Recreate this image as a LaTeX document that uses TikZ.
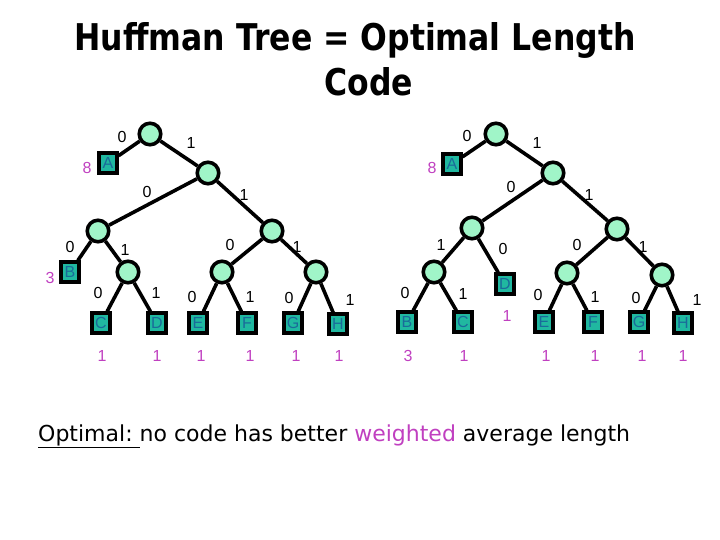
\documentclass[tikz,border=0pt]{standalone}
\usepackage{fontspec}
\setmainfont{Liberation Sans}
\newfontfamily\titlefont{DejaVu Sans}
\definecolor{mint}{HTML}{A0F5C8}
\definecolor{tealbox}{HTML}{20B8A0}
\definecolor{lettercol}{HTML}{1A6A9A}
\definecolor{wcol}{HTML}{C040C0}
\begin{document}
\begin{tikzpicture}[x=1pt,y=-1pt,
  inner/.style={circle,draw,line width=3.6pt,fill=mint,minimum size=21.5pt,inner sep=0pt},
  leaf/.style={rectangle,draw,line width=3.6pt,fill=tealbox,minimum width=17.5pt,minimum height=19.5pt,inner sep=0pt,text=lettercol,font=\fontsize{16}{16}\selectfont},
  lab/.style={font=\fontsize{16}{16}\selectfont,inner sep=0pt},
  wt/.style={font=\fontsize{16}{16}\selectfont,text=wcol,inner sep=0pt},
  ttl/.style={font=\titlefont\bfseries\fontsize{31.5}{31.5}\selectfont,inner sep=0pt},
  link/.style={line width=3.6pt}]
\useasboundingbox (0,0) rectangle (720,540);
% title
\node[ttl] (t1) at (355,40) {\scalebox{1}[1.17]{Huffman Tree = Optimal Length}};
\node[ttl] (t2) at (369,82) {\scalebox{1}[1.17]{Code}};
% left tree
\node[inner] (r1) at (150,134) {};
\node[leaf] (A1) at (108,163) {A};
\node[inner] (n1) at (208,173) {};
\node[inner] (n2) at (98,231) {};
\node[inner] (n3) at (272,231) {};
\node[leaf] (B1) at (70,272) {B};
\node[inner] (n4) at (128,272) {};
\node[leaf] (C1) at (101,323) {C};
\node[leaf] (D1) at (157,323) {D};
\node[inner] (n5) at (222,272) {};
\node[inner] (n6) at (316,272) {};
\node[leaf] (E1) at (198,323) {E};
\node[leaf] (F1) at (247,323) {F};
\node[leaf] (G1) at (293,323) {G};
\node[leaf] (H1) at (338,324) {H};
\draw[link] (r1)--(A1) (r1)--(n1) (n1)--(n2) (n1)--(n3) (n2)--(B1) (n2)--(n4)
  (n4)--(C1) (n4)--(D1) (n3)--(n5) (n3)--(n6) (n5)--(E1) (n5)--(F1) (n6)--(G1) (n6)--(H1);
\node[lab] (l1) at (122,137) {0};
\node[lab] (l2) at (191,143) {1};
\node[lab] (l3) at (147,192) {0};
\node[lab] (l4) at (244,195) {1};
\node[lab] (l5) at (70,247) {0};
\node[lab] (l6) at (125,250) {1};
\node[lab] (l7) at (230,245) {0};
\node[lab] (l8) at (297,247) {1};
\node[lab] (l9) at (98,293) {0};
\node[lab] (l10) at (156,293) {1};
\node[lab] (l11) at (192,297) {0};
\node[lab] (l12) at (250,297) {1};
\node[lab] (l13) at (289,298) {0};
\node[lab] (l14) at (350,300) {1};
\node[wt] (w1) at (87,168) {8};
\node[wt] (w2) at (50,278) {3};
\node[wt] (w3) at (102,356) {1};
\node[wt] (w4) at (157,356) {1};
\node[wt] (w5) at (201,356) {1};
\node[wt] (w6) at (250,356) {1};
\node[wt] (w7) at (296,356) {1};
\node[wt] (w8) at (339,356) {1};
% right tree
\node[inner] (r2) at (496,134) {};
\node[leaf] (A2) at (452,164) {A};
\node[inner] (m1) at (553,173) {};
\node[inner] (m2) at (472,228) {};
\node[inner] (m3) at (617,229) {};
\node[inner] (m4) at (434,272) {};
\node[leaf] (D2) at (505,284) {D};
\node[leaf] (B2) at (407,322) {B};
\node[leaf] (C2) at (463,322) {C};
\node[inner] (m5) at (567,273) {};
\node[inner] (m6) at (662,275) {};
\node[leaf] (E2) at (544,322) {E};
\node[leaf] (F2) at (593,322) {F};
\node[leaf] (G2) at (639,322) {G};
\node[leaf] (H2) at (683,323) {H};
\draw[link] (r2)--(A2) (r2)--(m1) (m1)--(m2) (m1)--(m3) (m2)--(m4) (m2)--(D2)
  (m4)--(B2) (m4)--(C2) (m3)--(m5) (m3)--(m6) (m5)--(E2) (m5)--(F2) (m6)--(G2) (m6)--(H2);
\node[lab] (k1) at (467,136) {0};
\node[lab] (k2) at (537,143) {1};
\node[lab] (k3) at (511,187) {0};
\node[lab] (k4) at (589,195) {1};
\node[lab] (k5) at (441,245) {1};
\node[lab] (k6) at (503,249) {0};
\node[lab] (k7) at (405,293) {0};
\node[lab] (k8) at (463,294) {1};
\node[lab] (k9) at (577,245) {0};
\node[lab] (k10) at (643,247) {1};
\node[lab] (k11) at (538,295) {0};
\node[lab] (k12) at (595,297) {1};
\node[lab] (k13) at (636,298) {0};
\node[lab] (k14) at (697,300) {1};
\node[wt] (v1) at (432,168) {8};
\node[wt] (v2) at (507,316) {1};
\node[wt] (v3) at (408,356) {3};
\node[wt] (v4) at (464,356) {1};
\node[wt] (v5) at (546,356) {1};
\node[wt] (v6) at (595,356) {1};
\node[wt] (v7) at (642,356) {1};
\node[wt] (v8) at (683,356) {1};
% bottom text
\node[anchor=west,inner sep=0pt,font=\titlefont\fontsize{22}{22}\selectfont] (bt) at (38,436)
  {\underline{Optimal:\ }no code has better \textcolor{wcol}{weighted} average length};
\end{tikzpicture}
\end{document}
